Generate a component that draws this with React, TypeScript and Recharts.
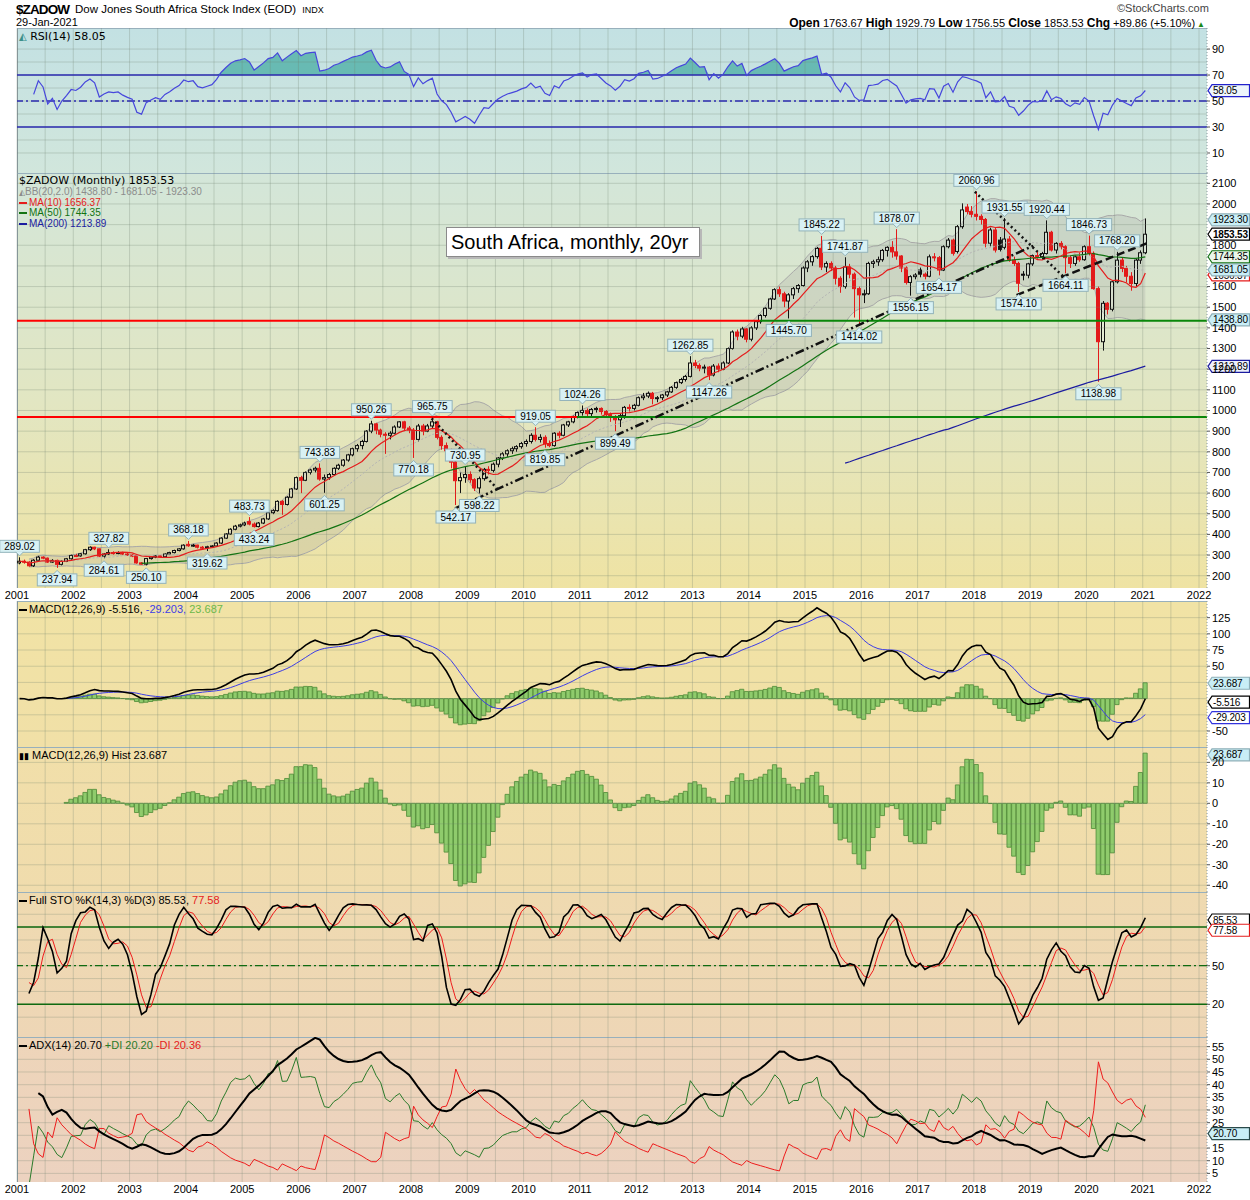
import React from 'react'
import {
  ComposedChart,
  Line,
  Bar,
  Area,
  Scatter,
  XAxis,
  YAxis,
  ReferenceLine,
  ReferenceDot,
} from 'recharts'

const SANS = '"Liberation Sans", Arial, sans-serif'
const VERD = '"DejaVu Sans", Verdana, sans-serif'

const years = ['2001', '2002', '2003', '2004', '2005', '2006', '2007', '2008', '2009', '2010', '2011',
  '2012', '2013', '2014', '2015', '2016', '2017', '2018', '2019', '2020', '2021', '2022']

// monthly candles: [open, high, low, close]
const y2001 = [[262, 289.02, 255, 270], [270, 278, 258, 266], [266, 270, 244, 248], [248, 280, 242, 275], [275, 296, 270, 290], [290, 294, 280, 285], [285, 288, 262, 266], [266, 280, 262, 274], [274, 278, 237.94, 255], [255, 274, 250, 270], [270, 286, 266, 282], [282, 302, 278, 298]]
const y2002 = [[298, 306, 290, 296], [296, 310, 292, 306], [306, 330, 302, 326], [326, 342, 320, 338], [338, 340, 324, 330], [330, 332, 290, 295], [295, 310, 284.61, 305], [305, 327.82, 300, 312], [312, 318, 302, 310], [310, 318, 304, 312], [312, 316, 300, 305], [305, 310, 296, 300]]
const y2003 = [[300, 304, 290, 296], [296, 298, 258, 262], [262, 266, 253, 256], [256, 286, 250.1, 283], [283, 295, 278, 290], [290, 300, 285, 296], [296, 300, 286, 292], [292, 308, 288, 305], [305, 316, 300, 312], [312, 326, 308, 322], [322, 334, 318, 330], [330, 352, 326, 348]]
const y2004 = [[352, 368.18, 340, 345], [345, 354, 340, 348], [348, 350, 332, 338], [338, 344, 328, 336], [336, 345, 319.62, 340], [340, 348, 334, 344], [344, 362, 340, 358], [358, 386, 354, 382], [382, 406, 378, 402], [402, 430, 398, 425], [425, 446, 420, 440], [440, 452, 434, 446]]
const y2005 = [[446, 462, 440, 455], [462, 483.73, 444, 450], [450, 458, 433.24, 438], [438, 460, 434, 455], [455, 480, 450, 475], [475, 510, 470, 505], [505, 522, 498, 515], [515, 565, 510, 560], [560, 566, 495, 545], [545, 585, 540, 580], [580, 625, 575, 620], [620, 680, 615, 675]]
const y2006 = [[675, 684, 600, 662], [662, 705, 658, 700], [700, 718, 690, 712], [712, 728, 700, 720], [720, 743.83, 660, 668], [668, 690, 601.25, 675], [675, 698, 665, 690], [690, 725, 684, 720], [720, 742, 712, 735], [735, 765, 728, 760], [760, 790, 752, 785], [785, 820, 778, 815]]
const y2007 = [[815, 838, 800, 830], [830, 858, 812, 850], [850, 905, 845, 900], [900, 950.26, 890, 935], [935, 940, 885, 905], [905, 912, 870, 885], [885, 895, 790, 880], [880, 900, 860, 890], [890, 928, 885, 920], [920, 948, 915, 945], [945, 950, 900, 915], [915, 925, 890, 905]]
const y2008 = [[905, 915, 770.18, 860], [860, 935, 850, 925], [925, 935, 880, 900], [900, 935, 895, 925], [925, 965.75, 915, 945], [945, 950, 860, 870], [870, 880, 810, 830], [830, 845, 790, 805], [805, 815, 720, 750], [750, 760, 542.17, 660], [660, 700, 600, 675], [675, 730.95, 650, 690]]
const y2009 = [[690, 705, 650, 665], [665, 672, 610, 625], [625, 680, 598.22, 670], [670, 722, 660, 715], [715, 730, 690, 710], [710, 748, 700, 740], [740, 775, 725, 770], [770, 798, 760, 790], [790, 812, 775, 805], [805, 825, 790, 815], [815, 832, 800, 825], [825, 848, 815, 840]]
const y2010 = [[840, 860, 825, 850], [850, 890, 840, 880], [880, 919.05, 850, 860], [860, 885, 845, 870], [870, 880, 819.85, 840], [840, 855, 822, 830], [830, 895, 825, 890], [890, 900, 865, 880], [880, 935, 875, 930], [930, 950, 920, 945], [945, 975, 938, 970], [970, 995, 962, 990]]
const y2011 = [[990, 1024.26, 975, 1000], [1000, 1010, 965, 985], [985, 1012, 970, 1005], [1005, 1018, 990, 1010], [1010, 1015, 980, 995], [995, 1002, 965, 980], [980, 990, 945, 970], [970, 978, 899.49, 955], [955, 985, 920, 975], [975, 1022, 960, 1015], [1015, 1030, 995, 1010], [1010, 1032, 1000, 1025]]
const y2012 = [[1025, 1068, 1020, 1062], [1062, 1085, 1050, 1070], [1070, 1092, 1060, 1083], [1083, 1090, 1030, 1058], [1058, 1070, 1040, 1062], [1062, 1080, 1050, 1075], [1075, 1095, 1065, 1090], [1090, 1118, 1085, 1112], [1112, 1140, 1105, 1135], [1135, 1158, 1128, 1150], [1150, 1172, 1140, 1165], [1165, 1262.85, 1160, 1230]]
const y2013 = [[1230, 1245, 1205, 1218], [1218, 1228, 1190, 1205], [1205, 1222, 1180, 1210], [1210, 1215, 1147.26, 1172], [1172, 1225, 1165, 1215], [1215, 1228, 1185, 1200], [1200, 1238, 1195, 1230], [1230, 1305, 1225, 1300], [1300, 1388, 1295, 1380], [1380, 1392, 1340, 1360], [1360, 1405, 1350, 1395], [1395, 1400, 1330, 1345]]
const y2014 = [[1345, 1408, 1335, 1400], [1400, 1438, 1390, 1430], [1430, 1466, 1420, 1460], [1460, 1500, 1450, 1495], [1495, 1545, 1488, 1540], [1540, 1592, 1535, 1585], [1585, 1600, 1550, 1565], [1565, 1575, 1500, 1530], [1530, 1568, 1445.7, 1560], [1560, 1598, 1540, 1590], [1590, 1612, 1570, 1605], [1605, 1698, 1600, 1690]]
const y2015 = [[1690, 1728, 1670, 1720], [1720, 1752, 1700, 1745], [1745, 1792, 1735, 1785], [1785, 1845.22, 1680, 1695], [1695, 1722, 1670, 1712], [1712, 1722, 1675, 1690], [1690, 1700, 1610, 1640], [1640, 1650, 1570, 1600], [1600, 1741.87, 1590, 1695], [1695, 1710, 1640, 1660], [1660, 1668, 1450, 1590], [1590, 1600, 1414.02, 1560]]
const y2016 = [[1560, 1585, 1520, 1565], [1565, 1720, 1560, 1712], [1712, 1730, 1690, 1720], [1720, 1745, 1700, 1730], [1730, 1782, 1720, 1775], [1775, 1795, 1745, 1790], [1790, 1820, 1740, 1768], [1768, 1878.07, 1730, 1748], [1748, 1752, 1670, 1690], [1690, 1698, 1610, 1620], [1620, 1655, 1556.15, 1648], [1648, 1665, 1635, 1656]]
const y2017 = [[1680, 1692, 1645, 1660], [1660, 1668, 1635, 1650], [1650, 1755, 1645, 1744], [1744, 1762, 1722, 1740], [1740, 1748, 1654.17, 1680], [1680, 1800, 1675, 1793], [1793, 1835, 1785, 1825], [1825, 1832, 1750, 1761], [1770, 1898, 1760, 1890], [1890, 2003, 1880, 1971], [1985, 2000, 1950, 1963], [1963, 1990, 1935, 1950]]
const y2018 = [[1950, 2060.96, 1920, 1940], [1940, 1950, 1900, 1925], [1925, 1932, 1790, 1810], [1810, 1885, 1795, 1874], [1874, 1885, 1765, 1777], [1825, 1840, 1770, 1780], [1790, 1931.55, 1780, 1830], [1830, 1845, 1720, 1728], [1728, 1745, 1700, 1712], [1712, 1720, 1574.1, 1616], [1660, 1675, 1630, 1655], [1655, 1715, 1640, 1710]]
const y2019 = [[1710, 1755, 1700, 1750], [1750, 1770, 1735, 1745], [1745, 1768, 1730, 1760], [1760, 1920.44, 1755, 1863], [1863, 1870, 1770, 1777], [1777, 1815, 1760, 1809], [1809, 1820, 1780, 1793], [1793, 1800, 1664.11, 1740], [1740, 1750, 1690, 1712], [1712, 1750, 1700, 1744], [1744, 1765, 1720, 1730], [1730, 1800, 1725, 1793]]
const y2020 = [[1793, 1846.73, 1750, 1761], [1761, 1770, 1585, 1590], [1590, 1600, 1138.98, 1333], [1333, 1530, 1290, 1519], [1519, 1525, 1465, 1490], [1490, 1630, 1480, 1623], [1623, 1768.2, 1615, 1728], [1728, 1740, 1670, 1688], [1688, 1700, 1620, 1650], [1650, 1670, 1580, 1615], [1615, 1735, 1600, 1728], [1728, 1775, 1710, 1763.67]]
const y2021 = [[1763.67, 1929.79, 1756.55, 1853.53]]

// labelled highs / lows: [month index from Jan 2001, 'h' | 'l']
const callouts: [number, string][] = [
  [0, 'h'], [8, 'l'], [19, 'h'], [18, 'l'], [27, 'l'], [36, 'h'], [40, 'l'], [49, 'h'], [50, 'l'],
  [64, 'h'], [65, 'l'], [75, 'h'], [84, 'l'], [88, 'h'], [93, 'l'], [95, 'h'], [98, 'l'], [110, 'h'],
  [112, 'l'], [120, 'h'], [127, 'l'], [143, 'h'], [147, 'l'], [164, 'l'], [171, 'h'], [176, 'h'],
  [179, 'l'], [187, 'h'], [190, 'l'], [196, 'l'], [204, 'h'], [210, 'h'], [213, 'l'], [219, 'h'],
  [223, 'l'], [228, 'h'], [230, 'l'], [234, 'h'],
]

// moving-average stretches that lean on history before 2001
const ma50Early = [260, 261, 262, 263, 264, 265, 266, 268, 269, 271, 273, 276, 279, 282, 285, 288, 291, 294, 298, 302, 306, 310, 314] // months 26..48
const ma200Early = [745, 752, 760, 768, 776, 783, 791, 799, 806, 814, 822, 829, 837, 845, 852, 860, 867, 875, 883, 890, 898, 905, 910] // months 176..198

// drawn trend lines, in (months since Jan 2001, index value)
const trendLines = [
  { from: [93.4, 526], to: [217.0, 1801], dash: '9 3 2 3 2 3' },
  { from: [88.4, 962], to: [102.3, 623], dash: '2 3' },
  { from: [204.2, 2059], to: [223.1, 1648], dash: '2 3' },
  { from: [213.1, 1559], to: [240.8, 1809], dash: '8 4' },
]
// horizontal levels: value, month where red turns green
const levels = [[1435, 158.4], [968, 119.4]]

const priceGrid = [200, 300, 400, 500, 600, 700, 800, 900, 1000, 1100, 1200, 1300, 1400, 1500, 1600, 1700, 1800, 1900, 2000, 2100]
const priceTicks = [200, 300, 400, 500, 600, 700, 800, 900, 1000, 1100, 1200, 1300, 1400, 1500, 1600, 1800, 2000, 2100]
const rsiTicks = [10, 30, 50, 70, 90]
const rsiGrid = [10, 20, 30, 40, 50, 60, 70, 80, 90]
const macdTicks = [-50, 50, 75, 100, 125]
const macdGrid = [-50, -25, 0, 25, 50, 75, 100, 125]
const histTicks = [-40, -30, -20, -10, 0, 10, 20]
const stoTicks = [20, 50]
const stoGrid = [10, 20, 30, 40, 50, 60, 70, 80, 90]
const adxTicks = [5, 10, 15, 25, 30, 35, 40, 45, 50, 55]
const adxGrid = [5, 10, 15, 20, 25, 30, 35, 40, 45, 50, 55]

const XMAX = 253.7
const yearTicks = years.map((_, k) => k * 12)
const halfYears = Array.from({ length: 43 }, (_, k) => k * 6)

const candles = [...y2001, ...y2002, ...y2003, ...y2004, ...y2005, ...y2006, ...y2007, ...y2008, ...y2009, ...y2010,
  ...y2011, ...y2012, ...y2013, ...y2014, ...y2015, ...y2016, ...y2017, ...y2018, ...y2019, ...y2020, ...y2021]
const N = candles.length
const highs = candles.map((b) => b[1])
const lows = candles.map((b) => b[2])
const closes = candles.map((b) => b[3])

function mean(src: number[], from: number, to: number) {
  let s = 0
  for (let k = from; k <= to; k++) s += src[k]
  return s / (to - from + 1)
}
function ema(src: number[], n: number) {
  const k = 2 / (n + 1)
  const out: number[] = []
  src.forEach((v, i) => out.push(i === 0 ? v : out[i - 1] + k * (v - out[i - 1])))
  return out
}
function wilder(src: number[], n: number) {
  const out: number[] = []
  src.forEach((v, i) => out.push(i === 0 ? v : out[i - 1] + (v - out[i - 1]) / Math.min(i + 1, n)))
  return out
}

// indicators
const e12 = ema(closes, 12)
const e26 = ema(closes, 26)
const macd = e12.map((v, i) => v - e26[i])
const signal = ema(macd, 9)

const gains = closes.slice(1).map((c, j) => Math.max(0, c - closes[j]))
const losses = closes.slice(1).map((c, j) => Math.max(0, closes[j] - c))
const avgG = wilder(gains, 14)
const avgL = wilder(losses, 14)

const rawK = closes.map((c, i) => {
  const s = Math.max(0, i - 13)
  let hh = -Infinity
  let ll = Infinity
  for (let k = s; k <= i; k++) {
    hh = Math.max(hh, highs[k])
    ll = Math.min(ll, lows[k])
  }
  return hh > ll ? ((c - ll) / (hh - ll)) * 100 : 50
})
const pctK = rawK.map((_, i) => mean(rawK, Math.max(0, i - 2), i))
const pctD = pctK.map((_, i) => mean(pctK, Math.max(0, i - 2), i))

const trs: number[] = []
const pdms: number[] = []
const mdms: number[] = []
for (let i = 1; i < N; i++) {
  const up = highs[i] - highs[i - 1]
  const dn = lows[i - 1] - lows[i]
  pdms.push(up > dn && up > 0 ? up : 0)
  mdms.push(dn > up && dn > 0 ? dn : 0)
  trs.push(Math.max(highs[i] - lows[i], Math.abs(highs[i] - closes[i - 1]), Math.abs(lows[i] - closes[i - 1])))
}
const trS = wilder(trs, 14)
const pS = wilder(pdms, 14)
const mS = wilder(mdms, 14)
const pdi = trS.map((t, j) => (100 * pS[j]) / t)
const mdi = trS.map((t, j) => (100 * mS[j]) / t)
const dx = pdi.map((p, j) => (p + mdi[j] ? (100 * Math.abs(p - mdi[j])) / (p + mdi[j]) : 0))
const adx = wilder(dx, 14)

const data = candles.map((b, i) => {
  const n20 = Math.min(20, i + 1)
  const m20 = mean(closes, i - n20 + 1, i)
  let sq = 0
  for (let k = i - n20 + 1; k <= i; k++) sq += (closes[k] - m20) ** 2
  const sd = Math.sqrt(sq / n20)
  const rsi = i >= 3 ? 100 - 100 / (1 + avgG[i - 1] / Math.max(avgL[i - 1], 1e-9)) : null
  return {
    t: i + 0.55,
    o: b[0],
    h: b[1],
    l: b[2],
    c: b[3],
    pc: i ? closes[i - 1] : b[0],
    ma10: mean(closes, Math.max(0, i - 9), i),
    ma50: i >= 49 ? mean(closes, i - 49, i) : i >= 26 ? ma50Early[i - 26] : null,
    ma200: i >= 199 ? mean(closes, i - 199, i) : i >= 176 ? ma200Early[i - 176] : null,
    bbM: i >= 2 ? m20 : null,
    bb: i >= 2 ? [m20 - 2 * sd, m20 + 2 * sd] : null,
    rsi,
    rsiFill: rsi == null ? null : [70, Math.max(70, rsi)],
    macd: macd[i],
    signal: i >= 10 ? signal[i] : null,
    hist: i >= 10 ? macd[i] - signal[i] : null,
    k: i >= 2 ? pctK[i] : null,
    d: i >= 2 ? pctD[i] : null,
    pdi: i >= 2 ? pdi[i - 1] : null,
    mdi: i >= 2 ? mdi[i - 1] : null,
    adx: i >= 4 ? adx[i - 1] : null,
  }
})

const calloutData = callouts.map(([i, dir]) => {
  const v = dir === 'h' ? highs[i] : lows[i]
  return { t: i + 0.55, v, dir, text: v.toFixed(2) }
})

function Candle(props: any) {
  const { x, y, width, height, payload } = props
  if (!payload || height == null) return null
  const { o, h, l, c, pc } = payload
  const top = Math.min(y, y + height)
  const span = Math.abs(height)
  const yOf = (v: number) => top + ((h - v) / (h - l || 1)) * span
  const px = Math.round(x + width / 2)
  const wx = px + 0.5
  const color = c >= pc ? '#111' : '#e31a1a'
  const bTop = yOf(Math.max(o, c))
  const bBot = yOf(Math.min(o, c))
  const filled = c < o
  return (
    <g>
      <line x1={wx} x2={wx} y1={top} y2={bTop} stroke={color} />
      <line x1={wx} x2={wx} y1={bBot} y2={top + span} stroke={color} />
      <rect x={px - 1.5} y={bTop} width={3} height={Math.max(bBot - bTop, 1)} fill={filled ? color : 'rgba(255,255,255,0.2)'} stroke={color} />
    </g>
  )
}

function Callout(props: any) {
  const { cx, cy, payload } = props
  if (!payload) return null
  const text = payload.text
  const w = text.length * 5.6 + 6
  const hh = 12
  const up = payload.dir === 'h'
  const by = up ? cy - 5 - hh : cy + 6
  const py = up ? cy - 5 : cy + 6
  return (
    <g>
      <rect x={cx - w / 2} y={by} width={w} height={hh} fill="#d8f1f4" stroke="#93b3ba" />
      <path d={up ? `M${cx - 4},${py - 0.5} L${cx},${py + 3.5} L${cx + 4},${py - 0.5}` : `M${cx - 4},${py + 0.5} L${cx},${py - 3.5} L${cx + 4},${py + 0.5}`} fill="#d8f1f4" stroke="#93b3ba" />
      <text x={cx} y={by + 9.5} textAnchor="middle" fontSize={10} fontFamily={SANS} fill="#000">{text}</text>
    </g>
  )
}

function tag(value: number, text: string, border: string, fill: string, bold = false) {
  const shape = (p: any) => {
    const { cx, cy } = p
    const x0 = cx + 1
    return (
      <g>
        <path d={`M${x0},${cy} L${x0 + 4},${cy - 6} L${x0 + 41.5},${cy - 6} L${x0 + 41.5},${cy + 6} L${x0 + 4},${cy + 6} Z`} fill={fill} stroke={border} strokeWidth={1.2} />
        <text x={x0 + 5} y={cy + 3.6} fontSize={10} letterSpacing={-0.2} fontFamily={SANS} fontWeight={bold ? 700 : 400} fill="#000">{text}</text>
      </g>
    )
  }
  return <ReferenceDot key={'tag' + text} x={XMAX} y={value} r={0} ifOverflow="visible" shape={shape} />
}

const gridColor = 'rgba(110,130,110,0.28)'
function vGrid() {
  return halfYears.map((t) => <ReferenceLine key={'v' + t} x={t} stroke={gridColor} />)
}
function hGrid(vals: number[]) {
  return vals.map((v) => <ReferenceLine key={'h' + v} y={v} stroke={gridColor} />)
}

function axes(domain: number[], ticks: number[], showX = false, xHeight = 0, clip = false) {
  return [
    <XAxis key="x" type="number" dataKey="t" domain={[0, XMAX]} ticks={yearTicks} interval={0}
      tickFormatter={(v: number) => years[Math.round(v / 12)]} hide={!showX} height={xHeight} axisLine={false}
      tickLine={false} tickSize={0} tickMargin={3} tick={{ fontSize: 11, fill: '#000', fontFamily: SANS }} />,
    <YAxis key="y" orientation="right" width={43} domain={domain} allowDataOverflow={clip} ticks={ticks} interval={0}
      axisLine={{ stroke: '#8a9aa0', strokeDasharray: '1 2' }} tickLine={{ stroke: '#555' }} tickSize={3} tickMargin={2}
      tick={{ fontSize: 11, fill: '#000', fontFamily: SANS }} />,
  ]
}

const M = { top: 0, right: 0, bottom: 0, left: 17 }

function RsiChart() {
  return (
    <ComposedChart width={1250} height={145} data={data} margin={M}>
      {axes([-5.4, 106.2], rsiTicks, false, 0, true)}
      {vGrid()}
      {hGrid(rsiGrid)}
      <Area dataKey="rsiFill" fill="#5db6ae" fillOpacity={0.9} stroke="none" isAnimationActive={false} />
      <ReferenceLine y={70} stroke="#2b2bb0" strokeWidth={1.5} />
      <ReferenceLine y={30} stroke="#2b2bb0" strokeWidth={1.5} />
      <ReferenceLine y={50} stroke="#2b2bb0" strokeWidth={1.3} strokeDasharray="8 3 2 3" />
      <Line dataKey="rsi" stroke="#4646dc" strokeWidth={1.2} dot={false} isAnimationActive={false} />
      {tag(58.05, '58.05', '#2222cc', '#eef6fb')}
    </ComposedChart>
  )
}

function PriceChart() {
  return (
    <ComposedChart width={1250} height={429} data={data} margin={M}>
      {axes([140.5, 2149.9], priceTicks, true, 14)}
      {vGrid()}
      {hGrid(priceGrid)}
      <Area dataKey="bb" fill="#9a9a9a" fillOpacity={0.22} stroke="#a8a8a8" strokeWidth={1} isAnimationActive={false} />
      <Line dataKey="bbM" stroke="#b4b4b4" strokeDasharray="2 2" dot={false} isAnimationActive={false} />
      <Line dataKey="ma200" stroke="#1c1ca0" strokeWidth={1.2} dot={false} isAnimationActive={false} />
      <Line dataKey="ma50" stroke="#137313" strokeWidth={1.2} dot={false} isAnimationActive={false} />
      <Bar dataKey={(d: any) => [d.l, d.h]} barSize={4} shape={Candle} isAnimationActive={false} />
      <Line dataKey="ma10" stroke="#e51c1c" strokeWidth={1.2} dot={false} isAnimationActive={false} />
      {levels.map(([v, tx]) => (
        <ReferenceLine key={'r' + v} segment={[{ x: 0, y: v }, { x: tx, y: v }]} stroke="#ff0000" strokeWidth={2} />
      ))}
      {levels.map(([v, tx]) => (
        <ReferenceLine key={'g' + v} segment={[{ x: tx, y: v }, { x: XMAX, y: v }]} stroke="#0a870a" strokeWidth={2} />
      ))}
      {trendLines.map((ln, k) => (
        <ReferenceLine key={'tl' + k} segment={[{ x: ln.from[0], y: ln.from[1] }, { x: ln.to[0], y: ln.to[1] }]}
          stroke="#111" strokeWidth={2.5} strokeDasharray={ln.dash} />
      ))}
      <Scatter data={calloutData} dataKey="v" shape={Callout} isAnimationActive={false} />
      {tag(1923.3, '1923.30', '#8fb0b8', '#c9eef6')}
      {tag(1656.37, '1656.37', '#e51c1c', '#ffffff')}
      {tag(1681.05, '1681.05', '#8fb0b8', '#c9eef6')}
      {tag(1744.35, '1744.35', '#137313', '#eaf6ea')}
      {tag(1853.53, '1853.53', '#000000', '#ffffff', true)}
      {tag(1438.8, '1438.80', '#8fb0b8', '#c9eef6')}
      {tag(1213.89, '1213.89', '#1c1ca0', '#eef0fb')}
    </ComposedChart>
  )
}

function MacdChart() {
  return (
    <ComposedChart width={1250} height={146} data={data} margin={M}>
      {axes([-74.7, 150.7], macdTicks, false, 0, true)}
      {vGrid()}
      {hGrid(macdGrid)}
      <Bar dataKey="hist" barSize={5} fill="#8fcb6c" stroke="#4c8a36" strokeWidth={0.8} isAnimationActive={false} />
      <Line dataKey="signal" stroke="#3d3de6" strokeWidth={1} dot={false} isAnimationActive={false} />
      <Line dataKey="macd" stroke="#000" strokeWidth={1.6} dot={false} isAnimationActive={false} />
      {tag(23.687, '23.687', '#8fb0b8', '#c9eef6')}
      {tag(-5.516, '-5.516', '#000', '#fff')}
      {tag(-29.203, '-29.203', '#3333dd', '#fff')}
    </ComposedChart>
  )
}

function HistChart() {
  return (
    <ComposedChart width={1250} height={145} data={data} margin={M}>
      {axes([-43.3, 27.5], histTicks, false, 0, true)}
      {vGrid()}
      {hGrid(histTicks)}
      <Bar dataKey="hist" barSize={5} fill="#8fcb6c" stroke="#4c8a36" strokeWidth={0.8} isAnimationActive={false} />
      {tag(23.687, '23.687', '#8fb0b8', '#c9eef6')}
    </ComposedChart>
  )
}

function StoChart() {
  return (
    <ComposedChart width={1250} height={145} data={data} margin={M}>
      {axes([-5.4, 107.3], stoTicks, false, 0, true)}
      {vGrid()}
      {hGrid(stoGrid)}
      <ReferenceLine y={80} stroke="#106a10" strokeWidth={1.5} />
      <ReferenceLine y={20} stroke="#106a10" strokeWidth={1.5} />
      <ReferenceLine y={50} stroke="#106a10" strokeWidth={1.2} strokeDasharray="8 3 2 3" />
      <Line dataKey="d" stroke="#ee1c1c" strokeWidth={1} dot={false} isAnimationActive={false} />
      <Line dataKey="k" stroke="#000" strokeWidth={1.6} dot={false} isAnimationActive={false} />
      {tag(85.53, '85.53', '#000', '#fff')}
      {tag(77.58, '77.58', '#e51c1c', '#fff')}
    </ComposedChart>
  )
}

function AdxChart() {
  return (
    <ComposedChart width={1250} height={163} data={data} margin={M}>
      {axes([1.6, 58.8], adxTicks, true, 18, true)}
      {vGrid()}
      {hGrid(adxGrid)}
      <Line dataKey="pdi" stroke="#2a7a2a" strokeWidth={1} dot={false} isAnimationActive={false} />
      <Line dataKey="mdi" stroke="#ee1c1c" strokeWidth={1} dot={false} isAnimationActive={false} />
      <Line dataKey="adx" stroke="#000" strokeWidth={2} dot={false} isAnimationActive={false} />
      {tag(20.7, '20.70', '#2a4a4a', '#c9eef6')}
    </ComposedChart>
  )
}

const panels = [
  { top: 28, h: 145, bg: 'linear-gradient(#c3e1e3, #d1e6dc)' },
  { top: 173, h: 415, bg: 'linear-gradient(#d3e6d9, #e2e6c2 55%, #efe3a3)' },
  { top: 601, h: 146, bg: 'linear-gradient(#f1e3a5, #f1e0a7)' },
  { top: 747, h: 145, bg: 'linear-gradient(#f1dfa9, #f0dcad)' },
  { top: 892, h: 145, bg: 'linear-gradient(#efdab0, #eed6b6)' },
  { top: 1037, h: 145, bg: 'linear-gradient(#eed5b9, #ecd2c0)' },
]

const abs = (left: number, top: number, extra: React.CSSProperties = {}): React.CSSProperties => ({
  position: 'absolute', left, top, whiteSpace: 'nowrap', lineHeight: 1, ...extra,
})

function Dash({ color }: { color: string }) {
  return <span style={{ display: 'inline-block', width: 8, height: 2, background: color, verticalAlign: 'middle', marginRight: 2 }} />
}

export default function App() {
  return (
    <div style={{ position: 'absolute', left: 0, top: 0, width: 1250, height: 1200, background: '#fff', fontFamily: SANS, overflow: 'hidden' }}>
      {panels.map((p, k) => (
        <div key={k} style={{ position: 'absolute', left: 17, top: p.top, width: 1190, height: p.h, background: p.bg, boxSizing: 'border-box', borderTop: '1px solid #98b0bc', borderLeft: '1px solid #8a9aa0' }} />
      ))}

      <div style={abs(0, 28)}><RsiChart /></div>
      <div style={abs(0, 173)}><PriceChart /></div>
      <div style={abs(0, 601)}><MacdChart /></div>
      <div style={abs(0, 747)}><HistChart /></div>
      <div style={abs(0, 892)}><StoChart /></div>
      <div style={abs(0, 1037)}><AdxChart /></div>

      {/* header */}
      <div style={abs(16, 3, { fontSize: 13.5, fontWeight: 700, letterSpacing: -0.9 })}>$ZADOW</div>
      <div style={abs(75, 4, { fontSize: 11.5 })}>Dow Jones South Africa Stock Index (EOD) <span style={{ fontSize: 9, marginLeft: 3 }}>INDX</span></div>
      <div style={abs(16, 17, { fontSize: 11 })}>29-Jan-2021</div>
      <div style={abs(1117, 3, { fontSize: 11, color: '#444' })}>©StockCharts.com</div>
      <div style={{ position: 'absolute', right: 45, top: 17, fontSize: 11, whiteSpace: 'nowrap', lineHeight: 1 }}>
        <b style={{ fontSize: 12 }}>Open</b> 1763.67 <b style={{ fontSize: 12 }}>High</b> 1929.79 <b style={{ fontSize: 12 }}>Low</b> 1756.55{' '}
        <b style={{ fontSize: 12 }}>Close</b> 1853.53 <b style={{ fontSize: 12 }}>Chg</b> +89.86 (+5.10%)
        <span style={{ color: '#1a8a1a', fontSize: 8, marginLeft: 2 }}>▲</span>
      </div>

      {/* panel legends */}
      <div style={abs(19, 31, { fontSize: 11, fontFamily: VERD })}>
        <span style={{ color: '#3a8f8a', fontSize: 10 }}>◭</span> RSI(14) 58.05
      </div>
      <div style={abs(19, 175, { fontSize: 11, fontFamily: VERD })}>$ZADOW (Monthly) 1853.53</div>
      <div style={abs(19, 187, { fontSize: 10, color: '#8c8c8c' })}><span style={{ fontSize: 8 }}>◭</span>BB(20,2.0) 1438.80 - 1681.05 - 1923.30</div>
      <div style={abs(19, 197.5, { fontSize: 10, color: '#e51c1c' })}><Dash color="#e51c1c" />MA(10) 1656.37</div>
      <div style={abs(19, 208, { fontSize: 10, color: '#137313' })}><Dash color="#137313" />MA(50) 1744.35</div>
      <div style={abs(19, 218.5, { fontSize: 10, color: '#1c1ca0' })}><Dash color="#1c1ca0" />MA(200) 1213.89</div>

      <div style={abs(446, 227, { width: 254, height: 30, boxSizing: 'border-box', background: '#fff', border: '1px solid #8a8a8a', boxShadow: '2px 2px 0 #b8b8b8', fontSize: 20, paddingLeft: 4, paddingTop: 4 })}>
        South Africa, monthly, 20yr
      </div>

      <div style={abs(19, 604, { fontSize: 11 })}>
        <Dash color="#000" />MACD(12,26,9) -5.516, <span style={{ color: '#3d3de6' }}>-29.203,</span> <span style={{ color: '#6cb84a' }}>23.687</span>
      </div>
      <div style={abs(19, 750, { fontSize: 11 })}>
        <span style={{ fontSize: 9 }}>▮▮</span> MACD(12,26,9) Hist 23.687
      </div>
      <div style={abs(19, 895, { fontSize: 11 })}>
        <Dash color="#000" />Full STO %K(14,3) %D(3) 85.53, <span style={{ color: '#e51c1c' }}>77.58</span>
      </div>
      <div style={abs(19, 1040, { fontSize: 11 })}>
        <Dash color="#000" />ADX(14) 20.70 <span style={{ color: '#2a7a2a' }}>+DI 20.20</span> <span style={{ color: '#e51c1c' }}>-DI 20.36</span>
      </div>
    </div>
  )
}
